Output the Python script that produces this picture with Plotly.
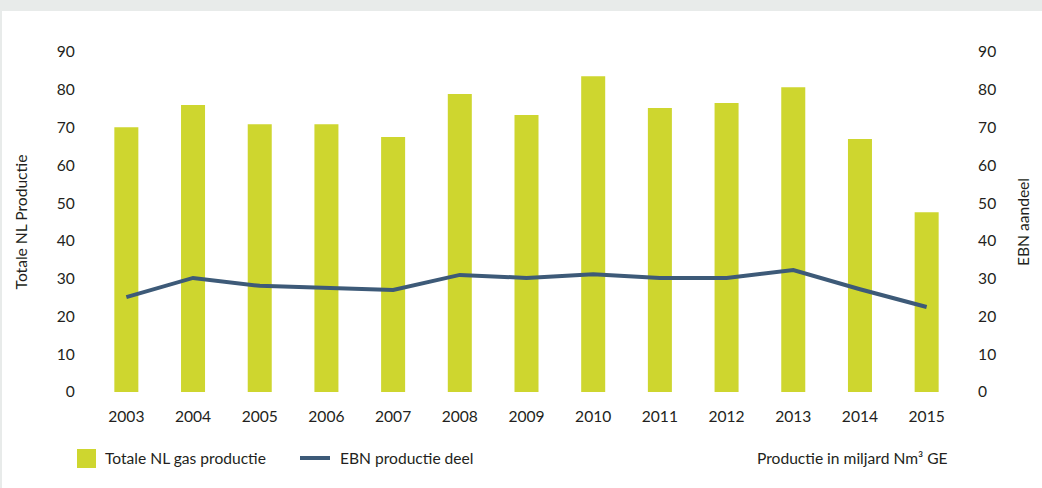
import plotly.graph_objects as go

# Jaarlijkse gasproductie Nederland
jaren = ["2003", "2004", "2005", "2006", "2007", "2008", "2009",
         "2010", "2011", "2012", "2013", "2014", "2015"]
totale_productie = [70.1, 76.0, 70.9, 70.9, 67.5, 78.9, 73.3,
                    83.6, 75.2, 76.5, 80.7, 67.0, 47.6]
ebn_deel = [25.1, 30.2, 28.1, 27.5, 27.0, 31.0, 30.2,
            31.2, 30.2, 30.2, 32.3, 27.2, 22.5]
y_ticks = [0, 10, 20, 30, 40, 50, 60, 70, 80, 90]

GROEN = "#CED62F"
BLAUW = "#3D5A78"
TEKST = "#231F20"
FONT = "Lato"
FS = 15.6

W, H = 1042, 488
ML, MR, MT, MB = 93, 82, 52, 96
PW, PH = W - ML - MR, H - MT - MB


def px(x):
    return (x - ML) / PW


def py(y):
    return (H - MB - y) / PH


fig = go.Figure()
fig.add_trace(go.Bar(
    x=jaren, y=totale_productie, name="Totale NL gas productie",
    marker=dict(color=GROEN, line=dict(width=0)), width=0.36,
    showlegend=False, yaxis="y",
))
fig.add_trace(go.Scatter(
    x=jaren, y=ebn_deel, name="EBN productie deel", mode="lines",
    line=dict(color=BLAUW, width=4), showlegend=False, yaxis="y2",
))

axis_common = dict(
    range=[0, 90], tickvals=y_ticks, showgrid=False, zeroline=False,
    showline=False, ticks="outside", ticklen=14, tickcolor="rgba(0,0,0,0)",
    tickfont=dict(family=FONT, size=FS, color=TEKST),
)

fig.update_layout(
    width=W, height=H,
    margin=dict(l=ML, r=MR, t=MT, b=MB, pad=0),
    paper_bgcolor="white", plot_bgcolor="white",
    font=dict(family=FONT, size=FS, color=TEKST),
    xaxis=dict(
        type="category", showgrid=False, zeroline=False, showline=False,
        ticks="outside", ticklen=10, tickcolor="rgba(0,0,0,0)",
        tickfont=dict(family=FONT, size=FS, color=TEKST),
    ),
    yaxis=dict(
        **axis_common,
        title=dict(text="Totale NL Productie", standoff=25,
                   font=dict(family=FONT, size=FS, color=TEKST)),
    ),
    yaxis2=dict(
        **axis_common, overlaying="y", side="right",
        title=dict(text="EBN aandeel", standoff=22,
                   font=dict(family=FONT, size=FS, color=TEKST)),
    ),
    shapes=[
        # grijze rand boven en links
        dict(type="rect", xref="paper", yref="paper",
             x0=px(0), x1=px(W), y0=py(11), y1=py(0),
             fillcolor="#E8EBEA", line=dict(width=0), layer="below"),
        dict(type="rect", xref="paper", yref="paper",
             x0=px(0), x1=px(2), y0=py(H), y1=py(0),
             fillcolor="#E8EBEA", line=dict(width=0), layer="below"),
        # legenda-symbolen
        dict(type="rect", xref="paper", yref="paper",
             x0=px(77), x1=px(96), y0=py(468), y1=py(449),
             fillcolor=GROEN, line=dict(width=0)),
        dict(type="line", xref="paper", yref="paper",
             x0=px(300), x1=px(330), y0=py(458), y1=py(458),
             line=dict(color=BLAUW, width=4)),
    ],
    annotations=[
        dict(text="Totale NL gas productie", xref="paper", yref="paper",
             x=px(103), y=py(458), xanchor="left", yanchor="middle",
             showarrow=False, font=dict(family=FONT, size=FS, color=TEKST)),
        dict(text="EBN productie deel", xref="paper", yref="paper",
             x=px(338), y=py(458), xanchor="left", yanchor="middle",
             showarrow=False, font=dict(family=FONT, size=FS, color=TEKST)),
        dict(text="Productie in miljard Nm³ GE", xref="paper", yref="paper",
             x=px(950), y=py(458), xanchor="right", yanchor="middle",
             showarrow=False, font=dict(family=FONT, size=FS, color=TEKST)),
    ],
)

fig.write_html("out.html")
